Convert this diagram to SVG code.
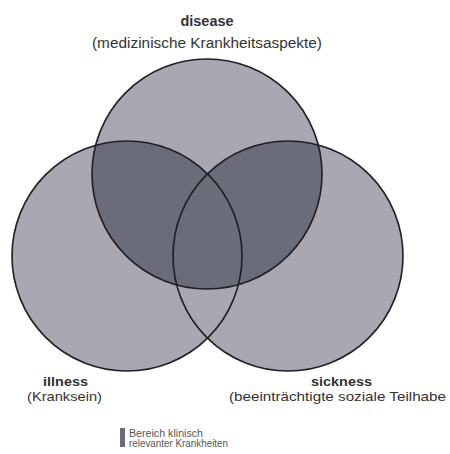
<svg xmlns="http://www.w3.org/2000/svg" width="450" height="454" viewBox="0 0 450 454">
<style>
.light{fill:#a9a8b2}
.dark{fill:#6a6c7a}
.ring{fill:none;stroke:#1e1e24;stroke-width:1.6}
.t{font-family:"Liberation Sans",Arial,sans-serif;fill:#333333;text-anchor:middle}
.b{font-weight:bold;font-size:14px}
.n{font-size:14px}
.l{font-size:13px}
.s{font-size:10px;text-anchor:start;fill:#555555}
</style>
<defs>
<clipPath id="lowerUnion">
<circle cx="127" cy="256" r="115"/>
<circle cx="288" cy="256" r="115"/>
</clipPath>
</defs>
<rect width="450" height="454" fill="#ffffff"/>
<g id="illness">
<circle class="light" cx="127" cy="256" r="115"/>
</g>
<g id="sickness">
<circle class="light" cx="288" cy="256" r="115"/>
</g>
<g id="disease">
<circle class="light" cx="207" cy="174" r="115"/>
<circle class="dark" cx="207" cy="174" r="115" clip-path="url(#lowerUnion)"/>
</g>
<g id="outlines">
<circle class="ring" cx="127" cy="256" r="115"/>
<circle class="ring" cx="288" cy="256" r="115"/>
<circle class="ring" cx="207" cy="174" r="115"/>
</g>
<g id="labels">
<text class="t b" x="207" y="26" textLength="53" lengthAdjust="spacingAndGlyphs">disease</text>
<text class="t n" x="207" y="48" textLength="230" lengthAdjust="spacingAndGlyphs">(medizinische Krankheitsaspekte)</text>
<text class="t b l" x="65.5" y="386" textLength="45" lengthAdjust="spacingAndGlyphs">illness</text>
<text class="t l" x="64.5" y="401" textLength="75" lengthAdjust="spacingAndGlyphs">(Kranksein)</text>
<text class="t b l" x="341.5" y="386" textLength="61" lengthAdjust="spacingAndGlyphs">sickness</text>
<text class="t l" x="337.5" y="401" textLength="217" lengthAdjust="spacingAndGlyphs">(beeinträchtigte soziale Teilhabe</text>
</g>
<g id="legend">
<rect x="120" y="428" width="5" height="19" fill="#6a6c7a"/>
<text class="t s" x="129" y="437" textLength="74" lengthAdjust="spacingAndGlyphs">Bereich klinisch</text>
<text class="t s" x="129" y="447" textLength="99" lengthAdjust="spacingAndGlyphs">relevanter Krankheiten</text>
</g>
</svg>
